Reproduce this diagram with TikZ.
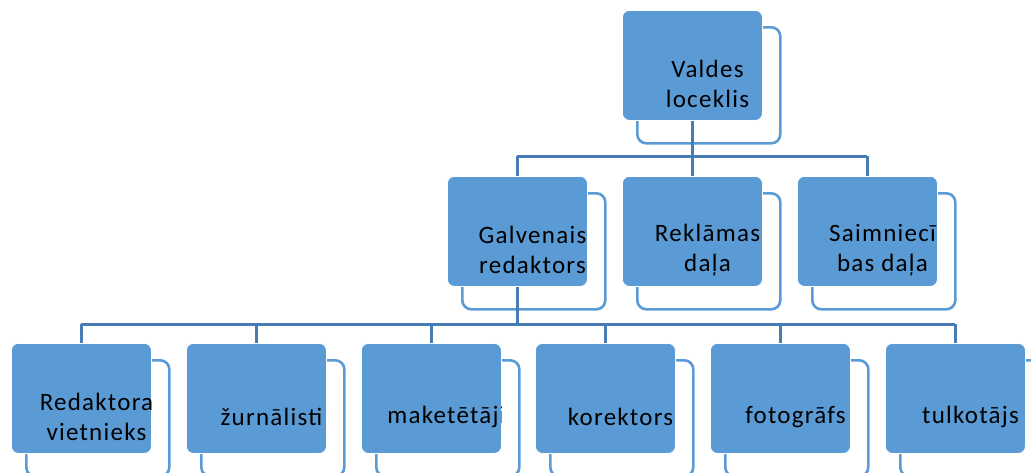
\documentclass[tikz,border=0pt]{standalone}
\usepackage{fontspec}
\setmainfont{Carlito}
\definecolor{boxblue}{RGB}{91,155,213}
\definecolor{linkblue}{RGB}{72,124,180}
\pgfdeclarelayer{background}
\pgfsetlayers{background,main}
\tikzset{
  frontbox/.style={rectangle, rounded corners=7pt, fill=boxblue, draw=white, line width=0.8pt,
    minimum width=140pt, minimum height=110pt, inner sep=0pt, anchor=north west},
  backbox/.style={rectangle, rounded corners=9pt, draw=boxblue, line width=2.6pt,
    minimum width=143pt, minimum height=116pt, inner sep=0pt, anchor=north west},
  lbl/.style={font=\fontsize{25}{30}\selectfont\addfontfeatures{LetterSpace=5}, text=black,
    align=center, inner sep=0pt},
  link/.style={draw=linkblue, line width=3pt},
}
\newcommand\orgunit[4]{%
  \node[frontbox] (#1) at (#2,#3) {};
  \begin{scope}
    \clip[rounded corners=7pt] (#1.north west) rectangle (#1.south east);
    \node[lbl] (#1t) at (#2+85.5,#3+74) {#4};
  \end{scope}
  \begin{pgfonlayer}{background}
    \node[backbox] (#1b) at (#2+14,#3+16) {};
  \end{pgfonlayer}
}
\begin{document}
\begin{tikzpicture}[x=1pt,y=-1pt]
  \useasboundingbox (0,0) rectangle (1031,472);
  % top
  \orgunit{v}{622}{10}{Valdes\\loceklis}
  % middle row
  \orgunit{g}{447}{176}{Galvenais\\redaktors}
  \orgunit{r}{622}{176}{Reklāmas\\daļa}
  \orgunit{s}{797}{176}{Saimniecī\\bas daļa}
  % bottom row
  \orgunit{b1}{11}{343}{Redaktora\\vietnieks}
  \orgunit{b2}{186}{343}{žurnālisti}
  \orgunit{b3}{361}{343}{maketētāji}
  \orgunit{b4}{535}{343}{korektors}
  \orgunit{b5}{710}{343}{fotogrāfs}
  \orgunit{b6}{885}{343}{tulkotājs}
  \coordinate (busA) at (0,156);
  \coordinate (busB) at (0,324);
  \begin{pgfonlayer}{background}
    \draw[link] (v.south) -- (v.south |- busA);
    \draw[link] (g.north |- busA) -- (s.north |- busA);
    \foreach \n in {g,r,s} \draw[link] (\n.north |- busA) -- (\n.north);
    \draw[link] (g.south) -- (g.south |- busB);
    \draw[link] (b1.north |- busB) -- (b6.north |- busB);
    \foreach \n in {b1,b2,b3,b4,b5,b6} \draw[link] (\n.north |- busB) -- (\n.north);
  \end{pgfonlayer}
\end{tikzpicture}
\end{document}
